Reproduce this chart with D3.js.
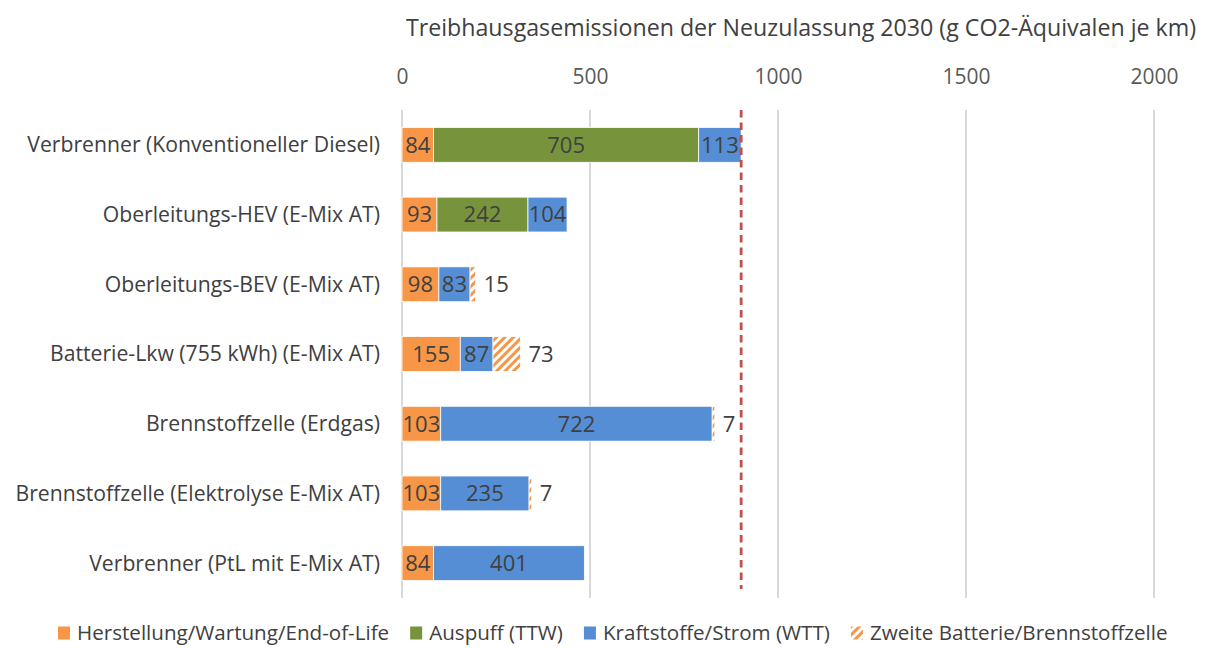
<!DOCTYPE html>
<html>
<head>
<meta charset="utf-8">
<script src="https://cdn.jsdelivr.net/npm/d3@7"></script>
<style>
  html, body { margin: 0; padding: 0; background: #fff; }
  svg text { font-family: "Open Sans", "Noto Sans", sans-serif; }
</style>
</head>
<body>
<svg id="chart" width="1211" height="648"></svg>
<script>
// Vehicle concepts (top to bottom)
const categories = [
  "Verbrenner (Konventioneller Diesel)",
  "Oberleitungs-HEV (E-Mix AT)",
  "Oberleitungs-BEV (E-Mix AT)",
  "Batterie-Lkw (755 kWh) (E-Mix AT)",
  "Brennstoffzelle (Erdgas)",
  "Brennstoffzelle (Elektrolyse E-Mix AT)",
  "Verbrenner (PtL mit E-Mix AT)"
];

// Emissions per component, g CO2-eq per km
const herstellung = [84, 93, 98, 155, 103, 103, 84];
const auspuff     = [705, 242, 0, 0, 0, 0, 0];
const kraftstoffe = [113, 104, 83, 87, 722, 235, 401];
const zweite      = [0, 0, 15, 73, 7, 7, 0];

const seriesNames = [
  "Herstellung/Wartung/End-of-Life",
  "Auspuff (TTW)",
  "Kraftstoffe/Strom (WTT)",
  "Zweite Batterie/Brennstoffzelle"
];

const xTicks = [0, 500, 1000, 1500, 2000];

// Reference level: total of the conventional diesel truck
const referenceValue = herstellung[0] + auspuff[0] + kraftstoffe[0];

const titleText = "Treibhausgasemissionen der Neuzulassung 2030 (g CO2-Äquivalen je km)";

const colors = ["#F79646", "#77933C", "#558ED5", "url(#hatch)"];
const textColor = "#404040";

const svg = d3.select("#chart");

// Diagonal hatch for the second battery / fuel cell
const defs = svg.append("defs");
const pat = defs.append("pattern")
  .attr("id", "hatch")
  .attr("patternUnits", "userSpaceOnUse")
  .attr("width", 6).attr("height", 6)
  .attr("patternTransform", "rotate(45)");
pat.append("rect").attr("width", 6).attr("height", 6).attr("fill", "#fff");
pat.append("rect").attr("width", 3).attr("height", 6).attr("fill", "#F79646");

const x = d3.scaleLinear().domain([0, 2000]).range([402, 1154]);
const y = d3.scaleBand().domain(categories).range([110, 598]).paddingInner(0.5).paddingOuter(0.25);

// Title
svg.append("text")
  .attr("x", 801).attr("y", 36)
  .attr("text-anchor", "middle")
  .attr("font-size", 23.2)
  .attr("fill", textColor)
  .text(titleText);

// Gridlines
svg.append("g")
  .selectAll("line")
  .data(xTicks)
  .join("line")
  .attr("x1", d => x(d)).attr("x2", d => x(d))
  .attr("y1", 110).attr("y2", 598)
  .attr("stroke", "#d9d9d9")
  .attr("stroke-width", 2);

// Top axis labels
const axis = d3.axisTop(x).tickValues(xTicks).tickSize(0).tickPadding(0).tickFormat(d3.format("d"));
const axisG = svg.append("g").attr("transform", "translate(0,84)").call(axis);
axisG.select(".domain").remove();
axisG.selectAll("text")
  .attr("font-size", 21)
  .attr("fill", "#595959")
  .style("font-family", "\"Open Sans\", \"Noto Sans\", sans-serif");

// Category labels
svg.append("g")
  .selectAll("text")
  .data(categories)
  .join("text")
  .attr("x", 380)
  .attr("y", d => y(d) + y.bandwidth() / 2)
  .attr("dy", "0.35em")
  .attr("text-anchor", "end")
  .attr("font-size", 21.2)
  .attr("fill", textColor)
  .text(d => d);

// Stack the segments
const rows = categories.map((c, i) => ({
  cat: c,
  values: [herstellung[i], auspuff[i], kraftstoffe[i], zweite[i]]
}));

const segs = [];
rows.forEach(r => {
  let acc = 0;
  r.values.forEach((v, s) => {
    if (v > 0) segs.push({ cat: r.cat, s, v, x0: acc, x1: acc + v });
    acc += v;
  });
});

const barG = svg.append("g");
barG.selectAll("rect")
  .data(segs)
  .join("rect")
  .attr("x", d => x(d.x0))
  .attr("y", d => y(d.cat))
  .attr("width", d => x(d.x1) - x(d.x0))
  .attr("height", y.bandwidth())
  .attr("fill", d => colors[d.s])
  .attr("stroke", "#fff")
  .attr("stroke-width", 0.8);

// Value labels
barG.selectAll("text")
  .data(segs)
  .join("text")
  .attr("x", d => d.s === 3 ? x(d.x1) + 8 : (x(d.x0) + x(d.x1)) / 2)
  .attr("y", d => y(d.cat) + y.bandwidth() / 2)
  .attr("dy", "0.36em")
  .attr("text-anchor", d => d.s === 3 ? "start" : "middle")
  .attr("font-size", 22)
  .attr("fill", textColor)
  .text(d => d.v);

// Reference line
svg.append("line")
  .attr("x1", x(referenceValue)).attr("x2", x(referenceValue))
  .attr("y1", 110).attr("y2", 589)
  .attr("stroke", "#C0504D")
  .attr("stroke-width", 2.8)
  .attr("stroke-dasharray", "7.5,5");

// Legend
const legend = svg.append("g").attr("transform", "translate(0,633)");
let lx = 58;
seriesNames.forEach((name, i) => {
  const g = legend.append("g").attr("transform", `translate(${lx},0)`);
  g.append("rect")
    .attr("x", 0).attr("y", -6.5)
    .attr("width", 12).attr("height", 13)
    .attr("fill", colors[i]);
  const t = g.append("text")
    .attr("x", 19).attr("y", 0)
    .attr("dy", "0.36em")
    .attr("font-size", 20.6)
    .attr("fill", textColor)
    .text(name);
  lx += 19 + t.node().getComputedTextLength() + 21;
});
</script>
</body>
</html>
